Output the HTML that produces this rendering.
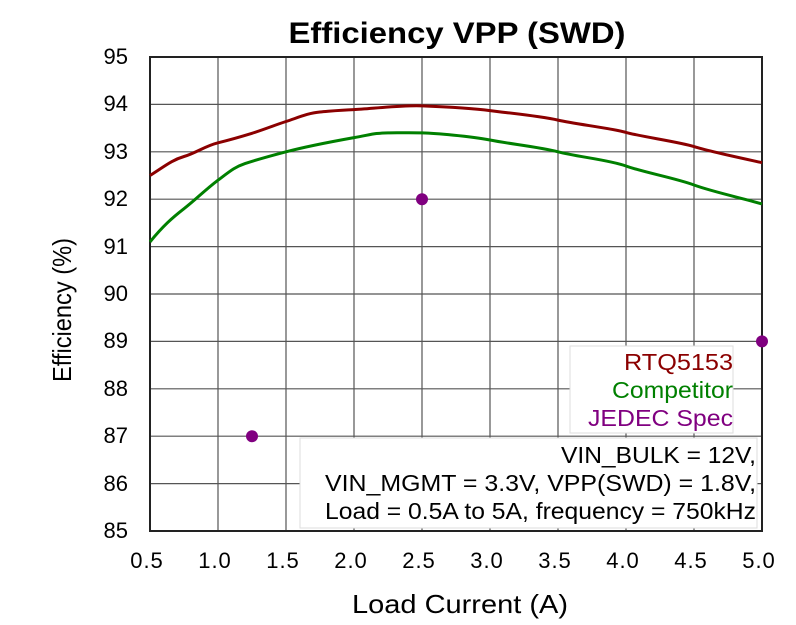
<!DOCTYPE html>
<html><head><meta charset="utf-8"><style>body{margin:0;background:#fff}svg{display:block}</style></head><body>
<svg width="796" height="625" xmlns="http://www.w3.org/2000/svg" font-family="Liberation Sans, Arial, sans-serif">
<rect width="796" height="625" fill="#fff"/>
<text x="457" y="43" font-size="30" font-weight="bold" text-anchor="middle" textLength="337" lengthAdjust="spacingAndGlyphs">Efficiency VPP (SWD)</text>
<g stroke="#555" stroke-width="1.2">
<path d="M218 57V531M286 57V531M354 57V531M422 57V531M490 57V531M558 57V531M626 57V531M694 57V531"/>
<path d="M150 104.4H762M150 151.8H762M150 199.2H762M150 246.6H762M150 294H762M150 341.4H762M150 388.8H762M150 436.2H762M150 483.6H762"/>
</g>
<rect x="150" y="57" width="612" height="474" fill="none" stroke="#222" stroke-width="2"/>
<g font-size="22" text-anchor="end">
<text x="128" y="64">95</text><text x="128" y="111">94</text><text x="128" y="159">93</text><text x="128" y="206">92</text><text x="128" y="254">91</text><text x="128" y="301">90</text><text x="128" y="348">89</text><text x="128" y="396">88</text><text x="128" y="443">87</text><text x="128" y="491">86</text><text x="128" y="538">85</text>
</g>
<g font-size="22" text-anchor="middle" letter-spacing="1">
<text x="147" y="568">0.5</text><text x="215" y="568">1.0</text><text x="283" y="568">1.5</text><text x="351" y="568">2.0</text><text x="419" y="568">2.5</text><text x="487" y="568">3.0</text><text x="555" y="568">3.5</text><text x="623" y="568">4.0</text><text x="691" y="568">4.5</text><text x="759" y="568">5.0</text>
</g>
<text x="460" y="613" font-size="26" text-anchor="middle" textLength="216" lengthAdjust="spacingAndGlyphs">Load Current (A)</text>
<text transform="translate(71,310) rotate(-90)" font-size="26" text-anchor="middle" textLength="144" lengthAdjust="spacingAndGlyphs">Efficiency (%)</text>
<path d="M150 175.5C165 166 172 160 184 156.5S205 146 218 142.8S240 137 252 133.3S275 125 286 121.5S308 113 320 112S340 110 354 109.6S400 105 422 105.9S470 108 490 110.6S540 116 558 120.1S610 128 626 132.4S680 142 694 146.6S750 160 762 162.7" fill="none" stroke="#8b0000" stroke-width="3"/>
<path d="M150 241.9C163 226 172 218 184 208.7S205 190 218 180.2S235 167 245 163.6S270 156 286 151.8S335 141 354 137.6S375 133 388 132.9S410 132.5 422 132.9S470 136 490 140S540 147 558 151.8S610 160 626 166S675 178 694 185S750 200 762 204" fill="none" stroke="#008000" stroke-width="3"/>
<g fill="#800080"><circle cx="252" cy="436.2" r="6"/><circle cx="422" cy="199.2" r="6"/><circle cx="762" cy="341.4" r="6"/></g>
<rect x="570" y="346" width="163" height="87" fill="#fff" stroke="#ddd"/>
<g font-size="23" text-anchor="end">
<text x="733" y="370" fill="#8b0000" textLength="109" lengthAdjust="spacingAndGlyphs">RTQ5153</text>
<text x="733" y="398" fill="#008000" textLength="121" lengthAdjust="spacingAndGlyphs">Competitor</text>
<text x="733" y="426" fill="#800080" textLength="145" lengthAdjust="spacingAndGlyphs">JEDEC Spec</text>
</g>
<rect x="300" y="438" width="457" height="90" fill="#fff" stroke="#ddd"/>
<g font-size="23" text-anchor="end">
<text x="756" y="463" textLength="195" lengthAdjust="spacingAndGlyphs">VIN_BULK = 12V,</text>
<text x="756" y="491" textLength="431" lengthAdjust="spacingAndGlyphs">VIN_MGMT = 3.3V, VPP(SWD) = 1.8V,</text>
<text x="756" y="519" textLength="431" lengthAdjust="spacingAndGlyphs">Load = 0.5A to 5A, frequency = 750kHz</text>
</g>
</svg>
</body></html>
